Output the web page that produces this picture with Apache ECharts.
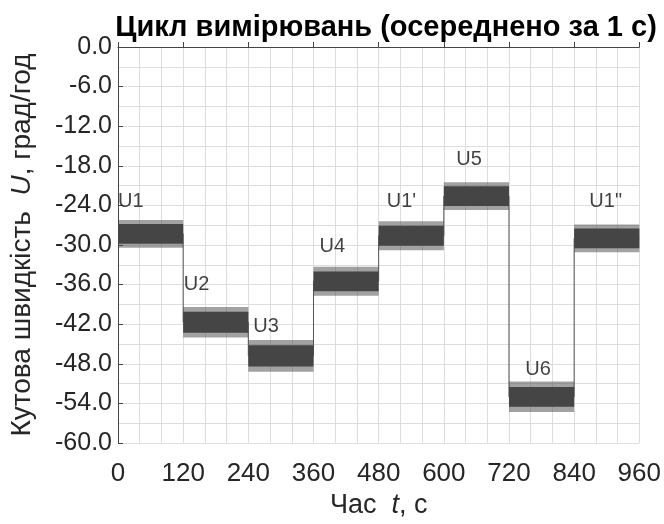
<!DOCTYPE html>
<html>
<head>
<meta charset="utf-8">
<script src="https://cdn.jsdelivr.net/npm/echarts@6/dist/echarts.min.js"></script>
<style>html,body{margin:0;padding:0;background:#fff;}#c{width:664px;height:524px;}</style>
</head>
<body>
<div id="c"></div>
<script>
// Measurement cycle segments (time in s, angular rate in deg/h)
const segStart = [0, 120, 240, 360, 480, 600, 720, 840];
const segEnd   = [120, 240, 360, 480, 600, 720, 840, 960];
const segMean  = [-28.3, -41.7, -46.8, -35.5, -28.6, -22.6, -53.0, -29.0];
const segCore  = [1.5, 1.6, 1.6, 1.5, 1.5, 1.5, 1.5, 1.5];   // typical noise half-spread
const segPeak  = [2.1, 2.3, 2.4, 2.2, 2.2, 2.1, 2.3, 2.1];   // extreme noise half-spread
const labelText = ['U1', 'U2', 'U3', 'U4', "U1'", 'U5', 'U6', 'U1"'];
const labelX    = [0, 121, 249, 371, 495, 623, 750, 868];
const labelY    = [-23.4, -36.0, -42.4, -30.2, -23.4, -17.0, -48.9, -23.4];
const xTicks = [0, 120, 240, 360, 480, 600, 720, 840, 960];
const yTicks = [0, -6, -12, -18, -24, -30, -36, -42, -48, -54, -60];

const meanLine = [];
for (let i = 0; i < segStart.length; i++) {
  meanLine.push([segStart[i], segMean[i]]);
  meanLine.push([segEnd[i], segMean[i]]);
}
const peakBands = segStart.map((s, i) => [s, segEnd[i], segMean[i] - segPeak[i], segMean[i] + segPeak[i]]);
const coreBands = segStart.map((s, i) => [s, segEnd[i], segMean[i] - segCore[i], segMean[i] + segCore[i]]);
const labels = labelText.map((t, i) => ({ value: [labelX[i], labelY[i]], name: t }));

function bandRenderer(color) {
  return function (params, api) {
    const p1 = api.coord([api.value(0), api.value(3)]);
    const p2 = api.coord([api.value(1), api.value(2)]);
    return {
      type: 'rect',
      shape: { x: p1[0], y: p1[1], width: p2[0] - p1[0], height: p2[1] - p1[1] },
      style: { fill: color }
    };
  };
}

const font = '"Liberation Sans", Arial, sans-serif';
const chart = echarts.init(document.getElementById('c'));
chart.setOption({
  animation: false,
  backgroundColor: '#fff',
  title: {
    text: 'Цикл вимірювань (осереднено за 1 с)',
    left: 381, top: 8, textAlign: 'center',
    textStyle: { fontFamily: font, fontWeight: 'bold', fontSize: 29, color: '#000' }
  },
  grid: { left: 117, right: 22, top: 47, bottom: 76, containLabel: false },
  xAxis: {
    type: 'value', min: xTicks[0], max: xTicks[xTicks.length - 1], interval: 120,
    name: 'Час  {i|t}, с', nameLocation: 'middle', nameGap: 49,
    nameTextStyle: { fontFamily: font, fontSize: 27, color: '#262626',
      rich: { i: { fontFamily: font, fontSize: 27, fontStyle: 'italic', color: '#262626' } } },
    axisLine: { show: true, lineStyle: { color: '#444', width: 1 } },
    axisTick: { show: true, inside: true, length: 5, lineStyle: { color: '#444' } },
    axisLabel: { fontFamily: font, fontSize: 26, color: '#262626', margin: 18 },
    splitLine: { show: true, lineStyle: { color: '#dedede', width: 1 } },
    minorTick: { show: false, splitNumber: 3 },
    minorSplitLine: { show: true, lineStyle: { color: '#dedede', width: 1 } }
  },
  yAxis: {
    type: 'value', min: yTicks[yTicks.length - 1], max: yTicks[0], interval: 6,
    name: 'Кутова швидкість  {i|U}, град/год', nameLocation: 'middle', nameGap: 82,
    nameTextStyle: { fontFamily: font, fontSize: 28, color: '#262626',
      rich: { i: { fontFamily: font, fontSize: 28, fontStyle: 'italic', color: '#262626' } } },
    axisLine: { show: true, lineStyle: { color: '#444', width: 1 } },
    axisTick: { show: true, inside: true, length: 5, lineStyle: { color: '#444' } },
    axisLabel: { fontFamily: font, fontSize: 25, color: '#262626', margin: 6,
      formatter: v => v.toFixed(1) },
    splitLine: { show: true, lineStyle: { color: '#dedede', width: 1 } },
    minorTick: { show: false, splitNumber: 2 },
    minorSplitLine: { show: true, lineStyle: { color: '#dedede', width: 1 } }
  },
  series: [
    {
      type: 'line', data: meanLine, showSymbol: false, symbol: 'none',
      lineStyle: { color: '#555', width: 1 }, z: 2
    },
    {
      type: 'custom', data: peakBands, renderItem: bandRenderer('rgba(70,70,70,0.5)'),
      encode: { x: [0, 1], y: [2, 3] }, z: 3
    },
    {
      type: 'custom', data: coreBands, renderItem: bandRenderer('#454545'),
      encode: { x: [0, 1], y: [2, 3] }, z: 4
    },
    {
      type: 'scatter', data: labels, symbolSize: 0, z: 5,
      label: { show: true, position: 'right', distance: 0, formatter: p => p.name,
        fontFamily: font, fontSize: 20, color: '#111' }
    }
  ]
});
</script>
</body>
</html>
